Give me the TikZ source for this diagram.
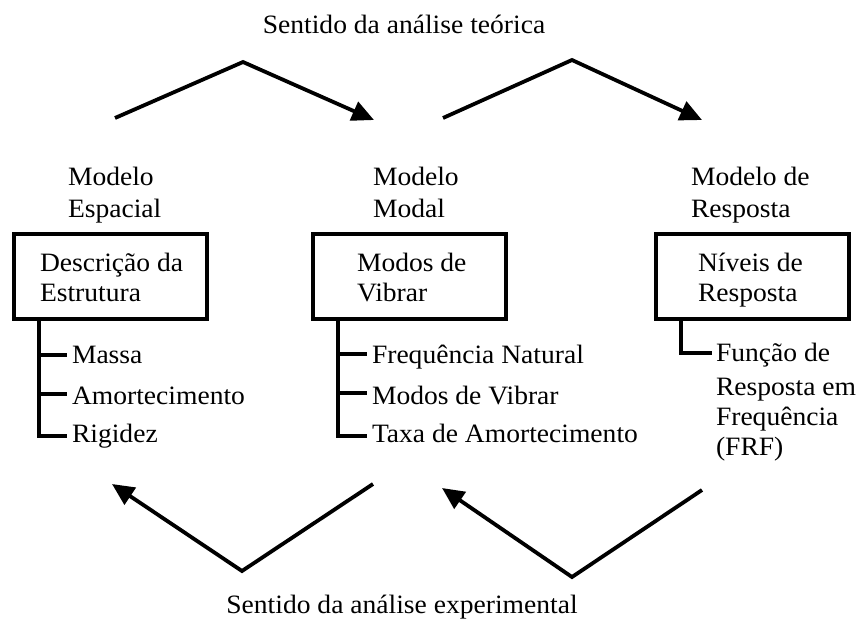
\documentclass[tikz,border=0pt]{standalone}
\usepackage{fontspec}
\setmainfont{Liberation Serif}[FakeStretch=1.04]
\usetikzlibrary{arrows.meta,calc}
\begin{document}
\begin{tikzpicture}[x=1pt,y=-1pt,
  lbl/.style={anchor=base west,inner sep=0pt,outer sep=0pt,font=\fontsize{26.5}{30}\selectfont},
  ttl/.style={anchor=base,inner sep=0pt,outer sep=0pt,font=\fontsize{26.5}{30}\selectfont},
  box/.style={draw,line width=3.2pt,minimum width=193pt,minimum height=85pt,inner sep=0pt,outer sep=0pt},
  tree/.style={line width=3.2pt},
  bigarrow/.style={line width=3.8pt,-{Triangle[length=22pt,width=20pt]},line join=miter}
]
\useasboundingbox[fill=white] (0,0) rectangle (864,622);

% titles
\node[ttl] (top) at (404,33) {Sentido da análise teórica};
\node[ttl] (bot) at (402,613) {Sentido da análise experimental};

% model headings
\node[lbl] (h1a) at (68,185) {Modelo};
\node[lbl] (h1b) at (68,217) {Espacial};
\node[lbl] (h2a) at (373,185) {Modelo};
\node[lbl] (h2b) at (373,217) {Modal};
\node[lbl] (h3a) at (691,185) {Modelo de};
\node[lbl] (h3b) at (691,217) {Resposta};

% boxes
\node[box] (b1) at (110.5,276.5) {};
\node[box] (b2) at (409.5,276.5) {};
\node[box] (b3) at (752.5,276.5) {};
\node[lbl] (b1a) at (40,271) {Descrição da};
\node[lbl] (b1b) at (40,301) {Estrutura};
\node[lbl] (b2a) at (357,271) {Modos de};
\node[lbl] (b2b) at (357,301) {Vibrar};
\node[lbl] (b3a) at (698,271) {Níveis de};
\node[lbl] (b3b) at (698,301) {Resposta};

% tree items
\node[lbl] (t11) at (72,363) {Massa};
\node[lbl] (t12) at (72,404) {Amortecimento};
\node[lbl] (t13) at (72,442) {Rigidez};
\node[lbl] (t21) at (372,363) {Frequência Natural};
\node[lbl] (t22) at (372,404) {Modos de Vibrar};
\node[lbl] (t23) at (372,442) {Taxa de Amortecimento};
\node[lbl] (t31) at (716,361) {Função de};
\node[lbl] (t32) at (716,395) {Resposta em};
\node[lbl] (t33) at (716,425) {Frequência};
\node[lbl] (t34) at (716,455) {(FRF)};

% tree connectors
\draw[tree] (b1.south west) ++(25,0) |- ($(t11.base west)+(-5,-8)$);
\draw[tree] (b1.south west) ++(25,0) |- ($(t12.base west)+(-5,-10)$);
\draw[tree] (b1.south west) ++(25,0) |- ($(t13.base west)+(-5,-6)$);
\draw[tree] (b2.south west) ++(25,0) |- ($(t21.base west)+(-5,-9)$);
\draw[tree] (b2.south west) ++(25,0) |- ($(t22.base west)+(-5,-11)$);
\draw[tree] (b2.south west) ++(25,0) |- ($(t23.base west)+(-5,-6)$);
\draw[tree] (b3.south west) ++(25,0) |- ($(t31.base west)+(-4,-8)$);

% direction arrows
\coordinate (a1s) at (115,118); \coordinate (a1p) at (243,62); \coordinate (a1e) at (374,120);
\coordinate (a2s) at (443,118); \coordinate (a2p) at (572,60); \coordinate (a2e) at (702,120);
\coordinate (c1s) at (373,484); \coordinate (c1p) at (242,571); \coordinate (c1e) at (112,484);
\coordinate (c2s) at (702,490); \coordinate (c2p) at (572,577); \coordinate (c2e) at (442,488);
\draw[bigarrow] (a1s) -- (a1p) -- (a1e);
\draw[bigarrow] (a2s) -- (a2p) -- (a2e);
\draw[bigarrow] (c1s) -- (c1p) -- (c1e);
\draw[bigarrow] (c2s) -- (c2p) -- (c2e);
\end{tikzpicture}
\end{document}
